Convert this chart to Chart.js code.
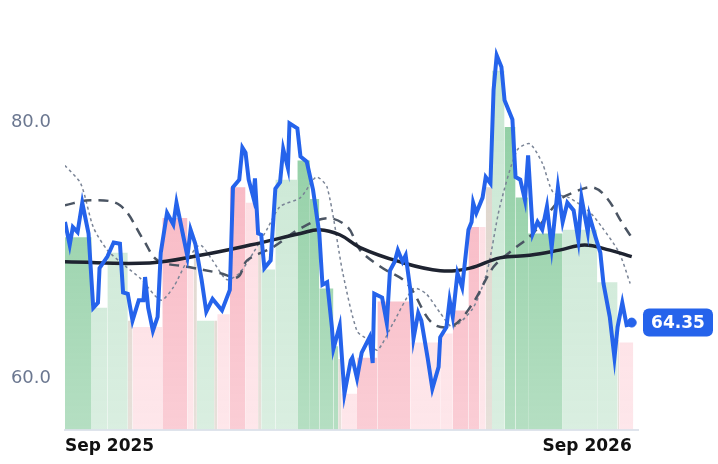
<!DOCTYPE html>
<html>
<head>
<meta charset="utf-8">
<script src="https://cdn.jsdelivr.net/npm/chart.js@4.4.1/dist/chart.umd.min.js"></script>
<style>
  html, body { margin: 0; padding: 0; background: #fff; }
  #wrap { width: 718px; height: 464px; }
</style>
</head>
<body>
<div id="wrap"><canvas id="chart"></canvas></div>
<script>
// x values are days since the start of Sep 2025
const priceDays = [0,3,5,8,11,15,18,21,22,27,31,35,37,40,43,47,50,51,53,56,59,61,65,69,71,75,78,80,83,87,90,94,100,105,107,111,113,115,117,120,121,123,125,127,131,134,137,139,142,143,148,150,154,158,162,164,167,170,171,175,178,182,183,186,189,194,196,197,202,205,207,210,212,215,217,220,222,225,227,231,234,238,239,243,245,247,250,253,257,259,260,262,266,268,271,273,275,278,280,285,287,290,293,295,298,301,304,307,310,314,317,320,324,327,329,333,334,338,341,343,347,350,352,355,358];
const priceVals = [72.2,70.4,71.8,71.4,73.7,71.3,65.5,65.9,68.6,69.5,70.6,70.5,66.7,66.6,64.5,66.1,66.1,67.9,65.5,63.7,64.8,69.8,72.9,72.0,73.7,71.3,69.5,71.6,70.5,67.7,65.2,66.2,65.3,66.9,74.9,75.5,78.0,77.6,75.5,74.1,75.6,71.3,71.2,68.6,69.2,74.8,75.3,77.9,76.4,79.9,79.5,77.3,76.9,74.7,71.3,67.3,67.5,64.0,62.3,64.1,58.8,61.4,61.6,60.0,62.0,63.2,61.2,66.6,66.3,64.3,68.4,69.1,70.0,69.1,69.6,66.9,63.1,65.1,64.5,61.6,59.2,60.9,63.2,64.0,66.1,64.8,68.2,67.1,71.6,72.2,73.7,72.9,74.1,75.7,75.2,82.5,85.2,84.3,81.7,80.2,75.7,75.5,73.9,77.4,71.3,72.2,71.6,73.4,70.2,74.9,72.2,73.7,73.1,70.8,74.1,71.4,72.7,71.0,69.8,67.4,64.8,61.6,64.0,65.9,64.0];
const lastDay = 361;
const lastPrice = 64.35;

const longMaDays = [0,54,86,118,150,162,175,188,213,239,258,277,296,315,331,347,361];
const longMaVals = [69.1,69.0,69.6,70.4,71.3,71.6,71.2,70.2,69.1,68.4,68.6,69.4,69.6,70.0,70.4,70.0,69.5];

const midMaDays = [0,16,35,50,59,78,99,110,116,132,150,167,180,188,201,218,234,247,260,273,285,298,315,324,336,345,355,362];
const midMaVals = [73.5,73.9,73.5,70.8,69.2,68.7,68.2,67.9,69.2,70.2,71.7,72.5,71.8,70.0,68.7,67.4,64.3,64.1,65.9,68.7,70.0,71.3,73.9,74.5,74.9,74.1,72.1,70.8];

const shortMaDays = [0,10,18,27,39,48,61,69,78,86,94,103,111,120,129,137,150,160,167,177,186,193,199,209,222,230,239,247,260,269,277,288,296,304,311,321,334,342,353,360];
const shortMaVals = [76.6,75.2,71.8,70.0,68.7,67.8,66.1,67.1,69.2,70.4,69.2,67.7,68.2,69.8,71.7,73.4,74.1,75.7,74.9,68.2,63.7,63.0,62.2,64.3,67.0,66.6,65.1,64.0,65.5,68.4,73.4,77.8,78.3,76.8,74.5,74.1,73.0,71.8,69.8,67.4];

// regime bands: start day, end day, level, regime
const bandStart = [0,17,27,40,43,62,78,82,84,95,97,105,115,123,125,134,148,156,162,171,174,176,186,199,220,239,247,257,264,268,272,280,287,295,317,339,352,353];
const bandEnd   = [17,27,40,43,62,78,82,84,95,97,105,115,123,125,134,148,156,162,171,174,176,186,199,220,239,247,257,264,268,272,280,287,295,317,339,352,353,362];
const bandLevel = [71,65.5,69.8,64.5,64.0,72.5,68.6,70,64.5,64.5,65,74.9,73.7,70.5,68.5,75.5,77,74,67,62.5,61.5,58.8,61.6,66,62.8,63.5,65.3,71.8,71.8,74.9,84,79.6,74.1,71.3,71.6,67.5,63,62.8];
const bandType  = ['G','g','g','n','r','R','r','n','g','n','r','R','r','n','g','g','G','G','G','G','n','r','R','R','r','r','R','R','r','n','g','G','G','G','g','g','n','r'];

const yTicks = [60, 80];
const xTicks = [0, 361];
const xTickLabels = ['Sep 2025', 'Sep 2026'];

const bandColors = {
    G: ['rgba(60,170,95,0.62)', 'rgba(60,170,95,0.38)'],
    g: ['rgba(120,195,145,0.42)', 'rgba(120,195,145,0.28)'],
    R: ['rgba(240,100,125,0.52)', 'rgba(240,100,125,0.32)'],
    r: ['rgba(250,160,175,0.40)', 'rgba(250,160,175,0.26)'],
    n: ['rgba(180,160,140,0.50)', 'rgba(180,160,140,0.32)'],
};

function bandFill(type) {
    return (ctx) => {
        const area = ctx.chart.chartArea;
        if (!area) return bandColors[type][0];
        const g = ctx.chart.ctx.createLinearGradient(0, area.top, 0, area.bottom);
        g.addColorStop(0, bandColors[type][0]);
        g.addColorStop(1, bandColors[type][1]);
        return g;
    };
}

const pts = (xs, ys) => xs.map((x, i) => ({ x: x, y: ys[i] }));

const bandSets = bandStart.map((s, i) => ({
    type: 'line',
    data: [{ x: s, y: bandLevel[i] }, { x: bandEnd[i], y: bandLevel[i] }],
    fill: 'start',
    backgroundColor: bandFill(bandType[i]),
    borderWidth: 0,
    pointRadius: 0,
    order: 10,
}));

const badgePlugin = {
    id: 'badge',
    afterDatasetsDraw(chart) {
        const { ctx, scales } = chart;
        const y = scales.y.getPixelForValue(lastPrice);
        const x = scales.x.right + 5;
        const w = 70, h = 28;
        ctx.save();
        ctx.fillStyle = '#2563eb';
        ctx.beginPath();
        ctx.roundRect(x, y - h / 2, w, h, 6);
        ctx.fill();
        ctx.fillStyle = '#fff';
        ctx.font = 'bold 17px "DejaVu Sans"';
        ctx.textAlign = 'center';
        ctx.textBaseline = 'middle';
        ctx.fillText(lastPrice.toFixed(2), x + w / 2, y + 1);
        ctx.restore();
    }
};

new Chart(document.getElementById('chart'), {
    type: 'line',
    data: {
        datasets: [
            ...bandSets,
            { data: pts(shortMaDays, shortMaVals), borderColor: '#7a8496', borderWidth: 1.5, borderDash: [3, 3], pointRadius: 0, tension: 0.25, fill: false, order: 4 },
            { data: pts(midMaDays, midMaVals), borderColor: '#4b5563', borderWidth: 2.5, borderDash: [10, 7], pointRadius: 0, tension: 0.35, fill: false, order: 3 },
            { data: pts(longMaDays, longMaVals), borderColor: '#1e2330', borderWidth: 3.5, pointRadius: 0, tension: 0.4, fill: false, order: 2 },
            { data: pts(priceDays, priceVals), borderColor: '#2563eb', borderWidth: 4, pointRadius: 0, tension: 0, fill: false, order: 1 },
            { data: [{ x: lastDay, y: lastPrice }], borderColor: '#2563eb', backgroundColor: '#2563eb', pointRadius: 4.5, showLine: false, order: 0 },
        ]
    },
    options: {
        responsive: true, maintainAspectRatio: false,
        animation: false,
        layout: { padding: { top: 22, right: 80, bottom: 0, left: 0 } },
        plugins: { legend: { display: false }, tooltip: { enabled: false } },
        scales: {
            x: {
                type: 'linear', min: 0, max: 365,
                afterBuildTicks: (s) => { s.ticks = xTicks.map(v => ({ value: v })); },
                ticks: {
                    color: '#111', font: { family: 'DejaVu Sans', size: 17, weight: 'bold' },
                    align: 'inner', maxRotation: 0, padding: 7,
                    callback: (v) => xTickLabels[xTicks.indexOf(v)],
                },
                grid: { display: false, drawTicks: false },
                border: { color: '#dfe4ec', width: 2 },
            },
            y: {
                min: 56, max: 87.8,
                afterBuildTicks: (s) => { s.ticks = yTicks.map(v => ({ value: v })); },
                afterFit: (s) => { s.width = 65; },
                ticks: { color: '#6b7790', font: { family: 'DejaVu Sans', size: 18 }, padding: 6, callback: (v) => v.toFixed(1) },
                grid: { display: false },
                border: { display: false },
            }
        }
    },
    plugins: [badgePlugin]
});
</script>
</body>
</html>
